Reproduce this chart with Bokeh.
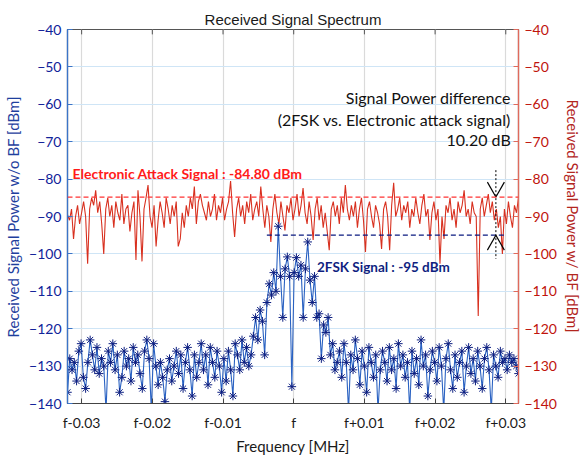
import numpy as np
from bokeh.plotting import figure
from bokeh.models import (Range1d, LinearAxis, FixedTicker, CustomJSTickFormatter,
                          Span, Label)
from bokeh.embed import file_html
from bokeh.resources import INLINE

# ---------------- data ----------------
X_MIN, X_MAX = -0.032, 0.0318
x_ticks = [-0.03, -0.02, -0.01, 0.0, 0.01, 0.02, 0.03]
x_tick_labels = ["f-0.03", "f-0.02", "f-0.01", "f", "f+0.01", "f+0.02", "f+0.03"]
y_ticks = [-140, -130, -120, -110, -100, -90, -80, -70, -60, -50, -40]

# 2FSK signal without beamforming (dBm), left axis
blue_db = [
    -137, -128, -131, -129, -134, -126, -124, -133, -136, -129, -123, -127, -131, -125, -132, -128, -130, -142, -126, -129,
    -124, -131, -127, -137, -133, -126, -130, -128, -134, -125, -129, -127, -132, -136, -126, -123, -128, -142, -124, -130,
    -135, -129, -133, -139.5, -131, -128, -134, -130, -126, -132, -127, -136, -129, -125, -131, -138, -127, -133, -129, -124,
    -131, -127, -135, -125, -129, -133, -126, -130, -137, -128, -134, -126, -131, -138, -124, -127, -131, -123, -129, -125,
    -130, -127, -122, -117, -123, -115, -118, -127, -113, -108, -111, -105, -110, -92.6, -106, -117, -104, -100.8, -106, -135.5,
    -105, -101, -106, -103, -117, -104, -96.8, -107, -113, -106, -117, -116, -128, -119, -121, -117, -127, -124, -131, -129,
    -126, -133, -124, -129, -142, -127, -131, -123, -128, -135, -126, -130, -137, -125, -129, -133, -127, -142, -131, -126,
    -129, -134, -125, -131, -128, -136, -124, -130, -127, -133, -129, -142, -126, -132, -128, -135, -123, -130, -127, -138,
    -131, -126, -129, -134, -125, -130, -142, -128, -124, -131, -136, -127, -133, -129, -126, -137, -130, -125, -132, -128,
    -134, -126, -130, -136, -128, -125, -131, -142, -127, -130, -133, -126, -129, -128, -131, -127, -129, -128, -130, -132,
]

# Electronic attack signal with beamforming (dBm), right axis
red_db = [
    -89.5, -91, -88, -96, -90, -87, -92, -89, -86, -90, -102.6, -88, -85, -87, -83,
    -89, -86, -92, -100, -88, -85, -90, -87, -93, -86, -89, -91, -84, -92, -88,
    -87, -94, -89, -86, -101.6, -83, -90, -102, -88, -85, -81.6, -90, -93, -87, -98,
    -91, -86, -89, -93, -85, -88, -92, -87, -90, -86, -98, -96, -89, -93, -87,
    -90, -85, -88, -82, -92, -86, -84, -87, -89, -91, -86, -90, -88, -84, -91,
    -87, -89, -85, -91, -88, -86, -80.5, -89, -95.5, -88, -85, -90, -87, -92, -86,
    -89, -84, -91, -88, -86, -90, -82, -88, -93, -87, -90, -96.8, -88, -84, -89,
    -92, -86, -90, -93.7, -87, -89, -85, -91, -88, -84, -90, -87, -82.4, -89, -92,
    -86, -90, -96.3, -88, -85, -91, -87, -93, -89, -94, -99, -88, -86, -90, -87,
    -92, -85, -89, -81.6, -88, -91, -87, -90, -86, -93, -88, -85, -91, -99.5, -88,
    -86, -90, -93, -87, -89, -92, -98.7, -88, -86, -90, -99, -87, -81, -90, -88,
    -85, -91, -87, -89, -86, -93, -88, -90, -85, -89, -92, -87, -84, -90, -88,
    -96.3, -89, -86, -91, -88, -102.6, -90, -96, -87, -89, -85, -91, -88, -93, -86,
    -89, -87, -83, -90, -88, -92, -86, -89, -90, -116.6, -88, -85, -90, -87, -84,
    -89, -86, -91, -88, -93, -90, -100, -88, -92, -86, -90, -93, -87, -89, -85,
]

attack_level = -84.80
fsk_level = -95.0
power_diff_text = ["Signal Power difference", "(2FSK vs. Electronic attack signal)", "10.20 dB"]

freq_blue = np.linspace(X_MIN, X_MAX, len(blue_db))
freq_red = np.linspace(X_MIN, X_MAX, len(red_db))

# ---------------- style constants ----------------
FONT = "Lato"
BLUE_LINE = "#2a62c2"
BLUE_MARK = "#0c1e80"
NAVY = "#10239a"
RED_LINE = "#d8301f"
RED_TXT = "#c0140c"

p = figure(width=587, height=457, x_range=Range1d(X_MIN, X_MAX), y_range=Range1d(-140, -40),
           output_backend="svg", toolbar_location=None,
           min_border_left=67, min_border_right=69, min_border_top=29, min_border_bottom=48,
           title="Received Signal Spectrum")
p.background_fill_color = "white"
p.border_fill_color = "white"
p.outline_line_color = "#555555"
p.outline_line_width = 1.2

p.title.align = "center"
p.title.text_font = "Liberation Sans"
p.title.text_font_size = "15px"
p.title.text_font_style = "normal"
p.title.text_color = "#1a1a1a"
p.title.standoff = 4

tick_fmt = CustomJSTickFormatter(args=dict(tvals=x_ticks, tlabels=x_tick_labels), code="""
let best = 0, d = 1e9;
for (let i = 0; i < tvals.length; i++) {
  const dd = Math.abs(tvals[i] - tick);
  if (dd < d) { d = dd; best = i; }
}
return tlabels[best];
""")

xa = p.below[0]
xa.ticker = FixedTicker(ticks=x_ticks)
xa.formatter = tick_fmt
xa.axis_label = "Frequency [MHz]"
xa.axis_label_text_font = FONT
xa.axis_label_text_font_size = "15px"
xa.axis_label_text_font_style = "normal"
xa.axis_label_text_color = "#1a1a1a"
xa.axis_label_standoff = 3
xa.major_label_text_font = FONT
xa.major_label_text_font_size = "14px"
xa.major_label_text_color = "#1a1a1a"
xa.major_label_standoff = 10
xa.axis_line_color = "#444444"
xa.major_tick_in = 5
xa.major_tick_out = 0
xa.major_tick_line_color = "#444444"
xa.minor_tick_line_color = None

ya = p.left[0]
ya.ticker = FixedTicker(ticks=y_ticks)
ya.axis_label = "Received Signal Power w/o BF [dBm]"
ya.axis_label_text_font = FONT
ya.axis_label_text_font_size = "15px"
ya.axis_label_text_font_style = "normal"
ya.axis_label_text_color = "#1f3f9e"
ya.axis_label_standoff = 4
ya.major_label_text_font = FONT
ya.major_label_text_font_size = "14px"
ya.major_label_text_color = NAVY
ya.major_label_standoff = 6
ya.axis_line_color = "#3b74c8"
ya.axis_line_width = 1.3
ya.major_tick_in = 5
ya.major_tick_out = 0
ya.major_tick_line_color = "#3b74c8"
ya.minor_tick_line_color = None

p.extra_y_ranges = {"right": Range1d(-140, -40)}
ra = LinearAxis(y_range_name="right", ticker=FixedTicker(ticks=y_ticks),
                axis_label="Received Signal Power w/ BF [dBm]")
ra.axis_label_text_font = FONT
ra.axis_label_text_font_size = "15px"
ra.axis_label_text_font_style = "normal"
ra.axis_label_text_color = "#b3261e"
ra.axis_label_standoff = 4
ra.major_label_text_font = FONT
ra.major_label_text_font_size = "14px"
ra.major_label_text_color = RED_TXT
ra.major_label_standoff = 6
ra.axis_line_color = "#e06a5c"
ra.axis_line_width = 1.3
ra.major_tick_in = 5
ra.major_tick_out = 0
ra.major_tick_line_color = "#e06a5c"
ra.minor_tick_line_color = None
p.add_layout(ra, "right")

p.xgrid.ticker = FixedTicker(ticks=x_ticks)
p.xgrid.grid_line_color = "#dadada"
p.xgrid.grid_line_width = 1.2
p.ygrid.ticker = FixedTicker(ticks=y_ticks)
p.ygrid.grid_line_color = "#cfe5f6"
p.ygrid.grid_line_width = 1.2

# top-edge tick marks (inward)
p.segment(x0=x_ticks, y0=[-40.0] * len(x_ticks), x1=x_ticks, y1=[-41.3] * len(x_ticks),
          line_color="#555555", line_width=1)

# series
p.line(freq_red, red_db, color=RED_LINE, line_width=1.1, y_range_name="right")
p.line(freq_blue, blue_db, color=BLUE_LINE, line_width=1.1)
p.scatter(freq_blue, blue_db, marker="asterisk", size=8.5, line_color=BLUE_MARK, line_width=1)

# reference levels
p.add_layout(Span(location=attack_level, dimension="width", line_color="#ff3333",
                  line_dash="5 3", line_width=1.3))
p.segment(x0=[-0.0038], y0=[fsk_level], x1=[0.0300], y1=[fsk_level],
          line_color="#0a1a80", line_dash="5 3", line_width=1.3)

# difference marker
MX = 0.0286
p.segment(x0=[MX], y0=[-77.6], x1=[MX], y1=[-101.3], line_color="black", line_dash="2 2", line_width=1)
p.segment(x0=[MX - 0.0012, MX, MX - 0.0012, MX], y0=[attack_level + 4, attack_level, fsk_level - 4, fsk_level],
          x1=[MX, MX + 0.0012, MX, MX + 0.0012], y1=[attack_level, attack_level + 4, fsk_level, fsk_level - 4],
          line_color="black", line_width=1.2)

# text annotations
for txt, yv in zip(power_diff_text, [-58.2, -64.0, -69.5]):
    p.add_layout(Label(x=0.0307, y=yv, text=txt, text_align="right", text_baseline="middle",
                       text_font=FONT, text_font_size="16px", text_color="#111111"))

p.add_layout(Label(x=-0.0313, y=-78.4, text="Electronic Attack Signal : -84.80 dBm",
                   text_align="left", text_baseline="middle", text_font=FONT,
                   text_font_size="14px", text_font_style="bold", text_color="#ff1a1a"))
p.add_layout(Label(x=0.0033, y=-103.4, text="2FSK Signal : -95 dBm",
                   text_align="left", text_baseline="middle", text_font=FONT,
                   text_font_size="13.5px", text_font_style="bold", text_color="#0f1f80"))

open("out.html", "w").write(file_html(p, INLINE))
